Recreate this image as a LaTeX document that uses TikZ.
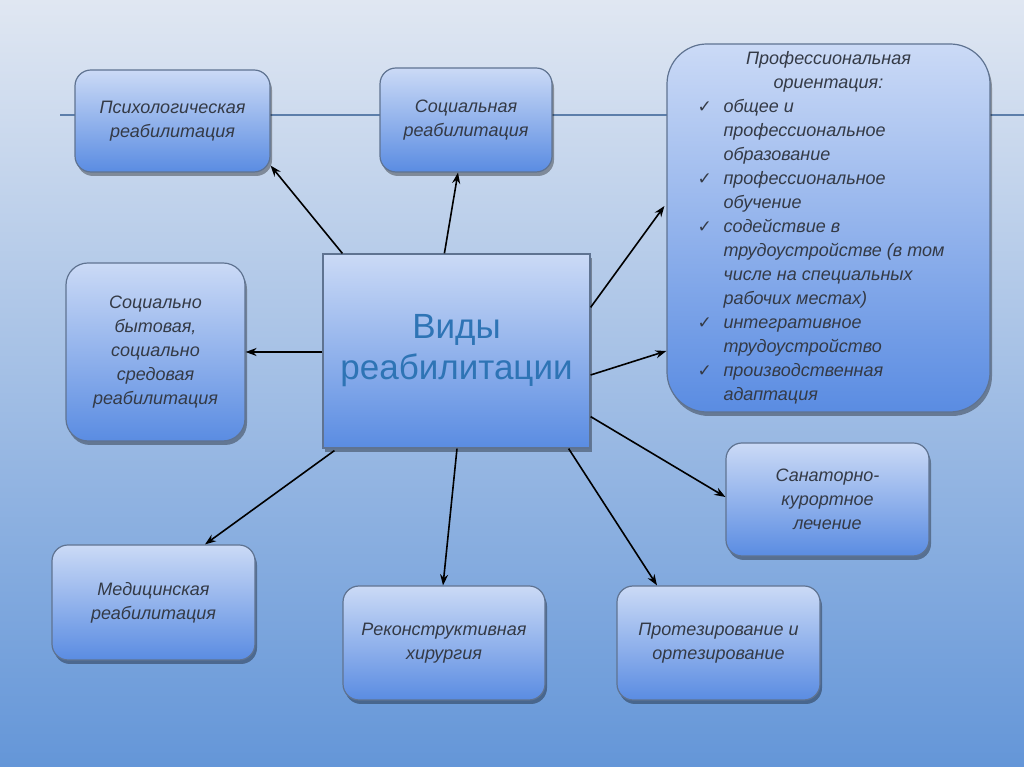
\documentclass[tikz,border=0pt]{standalone}
\usepackage{fontspec}
\setmainfont{Liberation Sans}
\newfontfamily\checkfont{DejaVu Sans}
\usetikzlibrary{arrows.meta,shadows,calc}
\definecolor{bgtop}{RGB}{224,231,242}
\definecolor{bgbot}{RGB}{100,150,216}
\definecolor{boxtop}{RGB}{203,218,246}
\definecolor{boxbot}{RGB}{90,140,226}
\definecolor{boxline}{RGB}{95,115,145}
\definecolor{txt}{RGB}{52,58,70}
\definecolor{titleblue}{RGB}{46,116,181}
\definecolor{hlinec}{RGB}{92,126,170}
\newcommand\chk{\makebox[26pt][l]{\hspace{0pt}{\checkfont\fontsize{17}{24}\selectfont\upshape ✓}}}
\newcommand\ind{\hspace*{26pt}}
\begin{document}
\begin{tikzpicture}[x=1pt,y=1pt,
  box/.style={draw=boxline, line width=1.2pt, top color=boxtop, bottom color=boxbot,
    rounded corners=16pt,
    drop shadow={shadow xshift=2pt, shadow yshift=-4pt, opacity=0.35, fill=black},
    font=\fontsize{18}{24}\selectfont\itshape, text=txt, align=center, inner sep=0pt},
  pbox/.style={draw=boxline, line width=1.2pt, top color=boxtop, bottom color=boxbot,
    rounded corners=40pt,
    drop shadow={shadow xshift=2pt, shadow yshift=-4pt, opacity=0.35, fill=black},
    font=\fontsize{18}{24}\selectfont\itshape, text=txt, inner sep=0pt},
  cbox/.style={box, sharp corners, font=\fontsize{35}{41}\selectfont, text=titleblue},
  arr/.style={-{Stealth[length=11pt,width=8pt]}, line width=1.6pt, black},
  deco/.style={draw=hlinec, line width=1.5pt}
]
\useasboundingbox (0,0) rectangle (1024,767);
\fill[top color=bgtop, bottom color=bgbot] (0,0) rectangle (1024,767);
\coordinate (hl1) at (60,652);
\coordinate (hl2) at (1024,652);
\draw[deco] (hl1) -- (hl2);

\node[box, minimum width=195pt, minimum height=102pt] (psy) at (172.5,646) {Психологическая\\реабилитация};
\node[box, minimum width=172pt, minimum height=104pt] (soc) at (466,647) {Социальная\\реабилитация};
\node[pbox, minimum width=323pt, minimum height=368pt] (prof) at (828.5,539) {\parbox{262pt}{%
\centering Профессиональная\\ориентация:\par
\raggedright
\chk общее и\\
\ind профессиональное\\
\ind образование\\
\chk профессиональное\\
\ind обучение\\
\chk содействие в\\
\ind трудоустройстве (в том\\
\ind числе на специальных\\
\ind рабочих местах)\\
\chk интегративное\\
\ind трудоустройство\\
\chk производственная\\
\ind адаптация}};
\node[box, rounded corners=22pt, minimum width=179pt, minimum height=178pt] (byt) at (155.5,415) {Социально\\бытовая,\\социально\\средовая\\реабилитация};
\node[cbox, minimum width=267pt, minimum height=194pt] (c) at (456.5,416) {Виды\\реабилитации};
\node[box, minimum width=203pt, minimum height=113pt] (san) at (827.5,267.5) {Санаторно-\\курортное\\лечение};
\node[box, minimum width=203pt, minimum height=115pt] (med) at (153.5,164.5) {Медицинская\\реабилитация};
\node[box, minimum width=202pt, minimum height=114pt] (rec) at (444,124) {Реконструктивная\\хирургия};
\node[box, minimum width=203pt, minimum height=114pt] (pro) at (718.5,124) {Протезирование и\\ортезирование};

\draw[arr] ([xshift=20pt]c.north west) -- ([yshift=7pt]psy.south east);
\draw[arr] ([xshift=122pt]c.north west) -- ([xshift=-8pt]soc.south);
\draw[arr] ([yshift=-54pt]c.north east) -- ([shift={(-2pt,22pt)}]prof.west);
\draw[arr] ([yshift=-24pt]c.east) -- ([yshift=-123pt]prof.west);
\draw[arr] ([yshift=-1pt]c.west) -- (byt.east);
\draw[arr] ([shift={(12pt,-2pt)}]c.south west) -- ([xshift=51.5pt]med.north);
\draw[arr] ([xshift=0.5pt]c.south) -- ([xshift=-1pt]rec.north);
\draw[arr] ([xshift=-22pt]c.south east) -- ([xshift=-61.5pt]pro.north);
\draw[arr] ([yshift=32pt]c.south east) -- ([yshift=2.5pt]san.west);
\end{tikzpicture}
\end{document}
